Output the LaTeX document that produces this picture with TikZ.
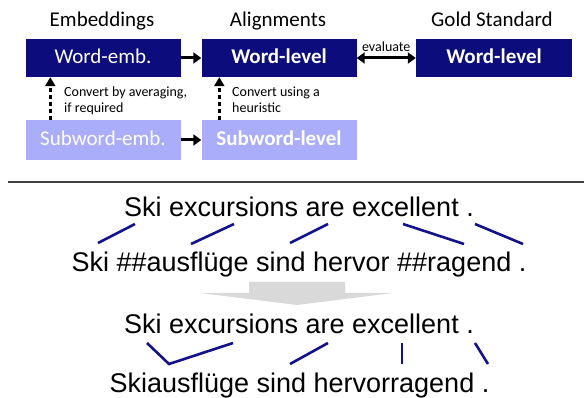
\documentclass[tikz,border=0pt]{standalone}
\usepackage{fontspec}
\setmainfont{Carlito}
\newfontfamily\arialf{Liberation Sans}
\usetikzlibrary{arrows.meta,calc}
\definecolor{navy}{RGB}{12,12,125}
\definecolor{lav}{RGB}{170,173,250}
\definecolor{alblue}{RGB}{18,18,140}
\definecolor{arrgray}{RGB}{217,217,217}
\definecolor{rulegray}{RGB}{64,64,64}
\begin{document}
\begin{tikzpicture}[x=1pt,y=1pt,
 hdr/.style={anchor=base,font=\fontsize{21}{25}\selectfont},
 darkbox/.style={fill=navy,text=white,minimum width=155pt,minimum height=38pt,inner sep=0pt,text height=14pt,text depth=3pt,font=\fontsize{21}{25}\selectfont},
 lightbox/.style={darkbox,fill=lav,minimum height=40pt},
 lbl/.style={anchor=base west,inner sep=0pt,font=\fontsize{14}{16}\selectfont},
 harr/.style={line width=3pt,-{Triangle[length=8pt,width=11pt]}},
 darr/.style={line width=3pt,{Triangle[length=8pt,width=11pt]}-{Triangle[length=8pt,width=11pt]}},
 dotarr/.style={line width=3.5pt,dash pattern=on 3.5pt off 3.5pt,-{Triangle[length=9pt,width=10pt]}},
 sent/.style={anchor=base,inner sep=0pt,font=\arialf\fontsize{27}{32}\selectfont},
 aline/.style={draw=alblue,line width=2.6pt},
]
\useasboundingbox (0,0) rectangle (584,-398);

% headers
\node[hdr] (h1) at (102,-27) {Embeddings};
\node[hdr] (h2) at (278,-27) {Alignments};
\node[hdr] (h3) at (492,-27) {Gold Standard};

% boxes
\node[darkbox] (we) at (103,-58) {Word-emb.};
\node[darkbox] (wl) at (279,-58) {\textbf{Word-level}};
\node[darkbox,minimum width=156pt] (gl) at (494,-58) {\textbf{Word-level}};
\node[lightbox] (swe) at (103,-140) {Subword-emb.};
\node[lightbox] (swl) at (279,-140) {\textbf{Subword-level}};

% arrows
\draw[harr] (we.east) -- (wl.west);
\draw[harr] (swe.east) -- (swl.west);
\draw[darr] (wl.east) -- (gl.west) node[midway,above=5pt,inner sep=0pt,font=\fontsize{14}{16}\selectfont] (ev) {evaluate};
\draw[dotarr] ([xshift=25pt]swe.north west) -- ([xshift=25pt]we.south west);
\draw[dotarr] ([xshift=18pt]swl.north west) -- ([xshift=18pt]wl.south west);

% labels
\node[lbl] (l1a) at (64,-97) {Convert by averaging,};
\node[lbl] (l1b) at (64,-113) {if required};
\node[lbl] (l2a) at (232,-97) {Convert using a};
\node[lbl] (l2b) at (232,-113) {heuristic};

% rule
\draw[rulegray,line width=1.5pt] (8,-182) -- (584,-182);

% sentences
\node[sent] (s1) at (299,-217) {Ski excursions are excellent .};
\node[sent] (s2) at (299,-272) {Ski \#\#ausflüge sind hervor \#\#ragend .};
\node[sent] (s3) at (299,-333) {Ski excursions are excellent .};
\node[sent] (s4) at (299.5,-392) {Skiausflüge sind hervorragend .};

% alignment lines 1
\draw[aline] (98,-243) -- (135,-224);
\draw[aline] (191,-244) -- (234,-224);
\draw[aline] (290,-243) -- (328,-224);
\draw[aline] (403,-224) -- (464,-244);
\draw[aline] (475,-224) -- (523,-244);

% gray arrow
\fill[arrgray] (249,-282) -- (345,-282) -- (345,-293) -- (393,-293) -- (297,-305) -- (200,-293) -- (249,-293) -- cycle;

% alignment lines 2
\draw[aline] (147,-343) -- (169,-364) -- (233,-343);
\draw[aline] (290,-364) -- (328,-343);
\draw[aline] (402,-343) -- (402,-364);
\draw[aline] (475,-343) -- (488,-364);
\end{tikzpicture}
\end{document}
